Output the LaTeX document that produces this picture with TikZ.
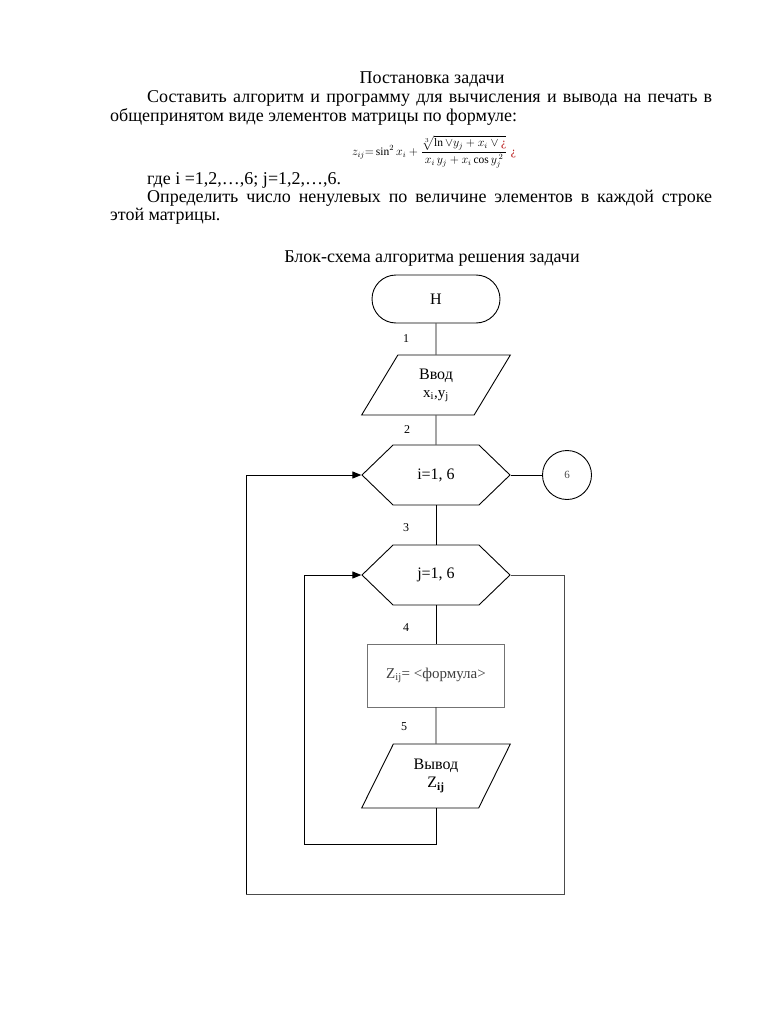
\documentclass[tikz,border=0pt]{standalone}
\usepackage{amsmath}
\usepackage{fontspec}
\setmainfont{Liberation Serif}
\usetikzlibrary{shapes.geometric,shapes.symbols,arrows.meta}

\tikzset{
  txt/.style={font=\fontsize{18}{20}\selectfont, inner sep=0pt, anchor=base west},
  num/.style={font=\fontsize{12}{14}\selectfont, inner sep=0pt},
  blk/.style={draw, line width=0.9pt, align=center, font=\fontsize{16}{19}\selectfont, inner sep=1pt},
  term/.style={blk, rectangle, rounded corners=24, minimum width=128, minimum height=48},
  io/.style={blk, trapezium, trapezium left angle=64, trapezium right angle=116,
    trapezium stretches=true, minimum width=149, minimum height=60},
  loopblk/.style={blk, signal, signal to=east and west, signal pointer angle=88,
    minimum width=148, minimum height=60},
  proc/.style={blk, draw=black!55, rectangle, minimum width=137, minimum height=63,
    text=black!75, font=\fontsize{15}{18}\selectfont},
  link/.style={line width=0.9pt}
}

\begin{document}
\begin{tikzpicture}[x=1pt, y=-1pt]
\useasboundingbox[fill=white] (0,0) rectangle (768,1024);

% постановка задачи
	\node[txt, anchor=base] (title) at (432,84) {Постановка задачи};
	\node[txt] (p1) at (147,103) {\makebox[565pt][s]{Составить алгоритм и программу для вычисления и вывода на печать в}};
	\node[txt] (p2) at (110,122) {общепринятом виде элементов матрицы по формуле:};
	\node[inner sep=0pt, font=\fontsize{11.5}{13}\selectfont] (formula) at (434,152)
		{$z_{ij}{=}\sin^2 x_i+\dfrac{\sqrt[3]{\ln\vee y_j+x_i\vee\mbox{\color{red!70!black}¿}}}{x_i\,y_j+x_i\cos y_j^{\,2}}\;\mbox{\color{red!70!black}¿}$};
	\node[txt] (p3) at (147,185) {где i =1,2,…,6; j=1,2,…,6.};
	\node[txt] (p4) at (147,203) {\makebox[565pt][s]{Определить число ненулевых по величине элементов в каждой строке}};
	\node[txt] (p5) at (110,221) {этой матрицы.};
	\node[txt, anchor=base] (caption) at (432,262) {Блок-схема алгоритма решения задачи};

% блоки
	\node[term] (start) at (436,299) {Н};
	\node[io] (vvod) at (436,385) {Ввод\\[-1pt]{\fontsize{15}{17}\selectfont x\textsubscript{i},y\textsubscript{j}}};
	\node[loopblk] (cyci) at (436,475) {i=1, 6};
	\node[blk, circle, minimum size=49, font=\fontsize{11}{13}\selectfont, text=black!70] (conn) at (567,475) {6};
	\node[loopblk] (cycj) at (436,575) {j=1, 6};
	\node[proc] (calc) at (436,675.5) {Z\textsubscript{ij}= <формула>};
	\node[io, minimum height=64] (vyvod) at (436,776) {Вывод\\[-1pt]Z\textsubscript{\textbf{ij}}};

% номера
	\node[num] (n1) at (406,339) {1};
	\node[num] (n2) at (407,430) {2};
	\node[num] (n3) at (406,528) {3};
	\node[num] (n4) at (406,628) {4};
	\node[num] (n5) at (404,727) {5};

% линии
	\coordinate (outBR) at (564,894);
	\coordinate (outBL) at (246,894);
	\coordinate (inBL) at (304,844);
	\draw[link] (start.south) -- (vvod.north);
	\draw[link] (vvod.south) -- (cyci.north);
	\draw[link] (cyci.south) -- (cycj.north);
	\draw[link] (cycj.south) -- (calc.north);
	\draw[link] (calc.south) -- (vyvod.north);
	\draw[link] (cyci.east) -- (conn.west);
	\draw[link, black!70] (cycj.east) -| (outBR) -- (outBL);
	\draw[link, -{Triangle[length=9pt, width=7pt]}] (outBL) |- (cyci.west);
	\draw[link] (vyvod.south) |- (inBL);
	\draw[link, -{Triangle[length=9pt, width=7pt]}] (inBL) |- (cycj.west);

\end{tikzpicture}
\end{document}
